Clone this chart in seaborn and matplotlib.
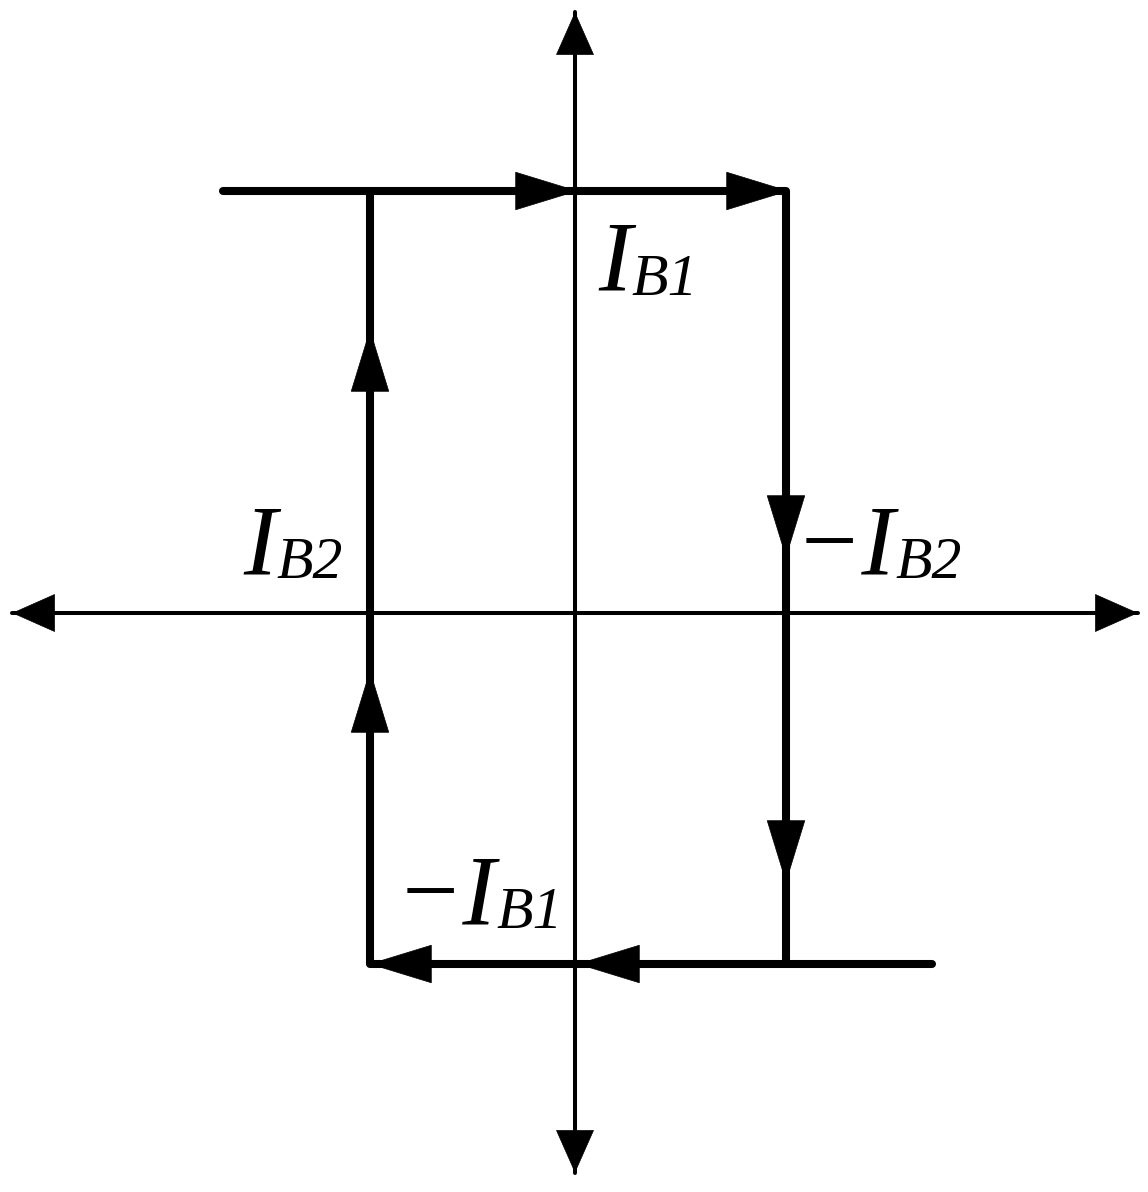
import matplotlib
matplotlib.use("Agg")
import matplotlib.pyplot as plt
import seaborn as sns
import pandas as pd

# hysteresis loop (origin at the crossing of the axes)
i_b1 = 211          # upper switching current
i_b2 = -205         # lower switching current
level_high = 422
level_low = -351
top_start = -352
bottom_end = 357

# coordinate axes extent
axis_x = [-563, 563]
axis_y = [-560, 601]

# arrow tips along the loop
top_arrows = [3, 214]
right_arrows = [55, -270]
bottom_arrows = [-206, 2]
left_arrows = [284, -57]

labels = ["I", "I", "\u2212I", "\u2212I"]
subs = ["B1", "B2", "B2", "B1"]
label_x = [23, -332, 220, -179]
label_y = [323, 40, 40, -310]

sns.set_theme(style="white")

fig = plt.figure(figsize=(11.48, 11.92), dpi=100)
ax = fig.add_axes([0, 0, 1, 1])
ax.set_xlim(-575, 573)
ax.set_ylim(-579, 613)
ax.axis("off")

upper = pd.DataFrame({"x": [top_start, i_b1, i_b1], "y": [level_high, level_high, level_low]})
lower = pd.DataFrame({"x": [bottom_end, i_b2, i_b2], "y": [level_low, level_low, level_high]})
for df in (upper, lower):
    sns.lineplot(data=df, x="x", y="y", sort=False, estimator=None, color="black", lw=5.8,
                 solid_capstyle="round", solid_joinstyle="round", ax=ax)

ax.plot(axis_x, [0, 0], color="black", lw=2.9)
ax.plot([0, 0], axis_y, color="black", lw=2.9)


def head(tip, direction, length=44, width=13.5):
    tail = (tip[0] - direction[0] * 150, tip[1] - direction[1] * 150)
    ax.annotate("", xy=tip, xytext=tail,
                arrowprops=dict(arrowstyle=f"-|>,head_length={length},head_width={width}",
                                color="black", lw=0.5, shrinkA=0, shrinkB=0,
                                mutation_scale=1))


for x in top_arrows:
    head((x, level_high), (1, 0))
for y in right_arrows:
    head((i_b1, y), (0, -1))
for x in bottom_arrows:
    head((x, level_low), (-1, 0))
for y in left_arrows:
    head((i_b2, y), (0, 1))

head((axis_x[0], 0), (-1, 0), 30, 13.3)
head((axis_x[1], 0), (1, 0), 30, 13.3)
head((0, axis_y[1]), (0, 1), 30, 13.3)
head((0, axis_y[0]), (0, -1), 30, 13.3)

font = dict(family="Liberation Serif", style="italic", color="black")
for lab, sub, x, y in zip(labels, subs, label_x, label_y):
    t = ax.text(x, y, lab, fontsize=72, ha="left", va="baseline", **font)
    ax.annotate(sub, xy=(1, 0), xycoords=t, xytext=(0, 2), textcoords="offset points",
                fontsize=43, ha="left", va="bottom", **font)

fig.savefig("out.png", dpi=100)
